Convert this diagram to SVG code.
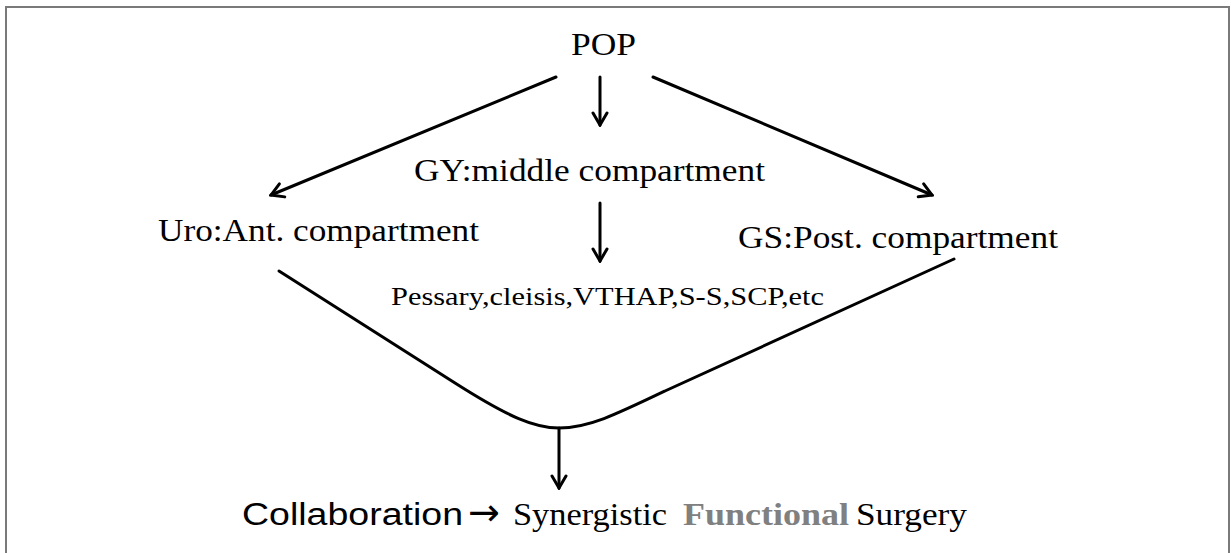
<svg xmlns="http://www.w3.org/2000/svg" width="1231" height="553" viewBox="0 0 1231 553">
<style>
.t{font-family:"Liberation Serif","Times New Roman",serif;fill:#000}
.a{font-family:"Liberation Sans",Arial,sans-serif;fill:#000}
.ln{stroke:#000;stroke-width:3;fill:none;stroke-linecap:round}
</style>
<defs>
<marker id="arr" markerUnits="userSpaceOnUse" viewBox="-14 -9 16 18" markerWidth="16" markerHeight="18" refX="0" refY="0" orient="auto">
<path d="M-12,-7 L0,0 L-12,7" fill="none" stroke="#000" stroke-width="3" stroke-linecap="round" stroke-linejoin="miter"/>
</marker>
</defs>
<rect width="1231" height="553" fill="#fff"/>
<path d="M6,553 V7 H1229 V553" fill="none" stroke="#7a7a7a" stroke-width="2"/>
<g id="pop"><text class="t" x="571" y="55" font-size="32" textLength="65" lengthAdjust="spacingAndGlyphs">POP</text></g>
<g id="gy"><text class="t" x="414" y="181" font-size="31" textLength="351" lengthAdjust="spacingAndGlyphs">GY:middle compartment</text></g>
<g id="uro"><text class="t" x="158" y="241" font-size="31" textLength="321" lengthAdjust="spacingAndGlyphs">Uro:Ant. compartment</text></g>
<g id="gs"><text class="t" x="738" y="248" font-size="31" textLength="320" lengthAdjust="spacingAndGlyphs">GS:Post. compartment</text></g>
<g id="pessary"><text class="t" x="391" y="305" font-size="25" textLength="433" lengthAdjust="spacingAndGlyphs">Pessary,cleisis,VTHAP,S-S,SCP,etc</text></g>
<g id="result">
<text class="a" x="242" y="525" font-size="31" textLength="221" lengthAdjust="spacingAndGlyphs">Collaboration</text>
<text x="468" y="525" font-size="38" style="font-family:'DejaVu Sans',sans-serif;fill:#000">→</text>
<text class="t" x="513" y="525" font-size="31" textLength="154" lengthAdjust="spacingAndGlyphs">Synergistic</text>
<text class="t" x="683" y="525" font-size="31" font-weight="bold" style="fill:#808080" textLength="166" lengthAdjust="spacingAndGlyphs">Functional</text>
<text class="t" x="856" y="525" font-size="31" textLength="111" lengthAdjust="spacingAndGlyphs">Surgery</text>
</g>
<g id="connectors">
<line class="ln" x1="556" y1="77" x2="271" y2="195" marker-end="url(#arr)"/>
<line class="ln" x1="600" y1="77" x2="600" y2="125" marker-end="url(#arr)"/>
<line class="ln" x1="653" y1="77" x2="932" y2="195" marker-end="url(#arr)"/>
<line class="ln" x1="600" y1="203" x2="600" y2="261" marker-end="url(#arr)"/>
<path class="ln" d="M279,271 L455,383 C510,418 535,428 559,428 C588,428 615,415 665,391 L954,259"/>
<line class="ln" x1="559" y1="428" x2="559" y2="488" marker-end="url(#arr)"/>
</g>
</svg>
